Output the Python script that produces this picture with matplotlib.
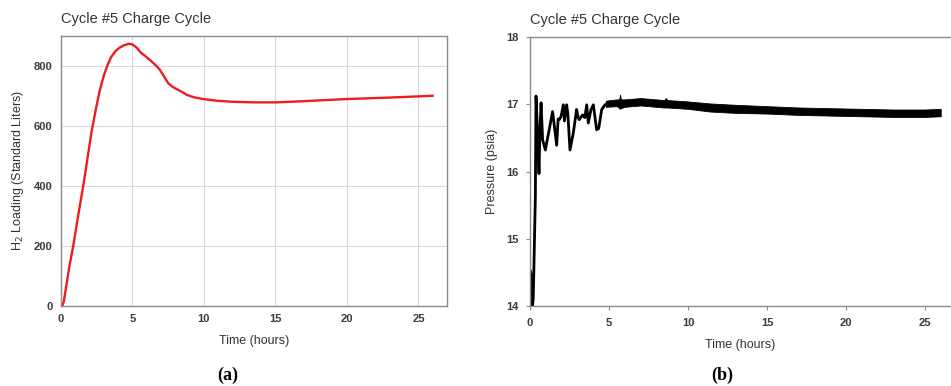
"""
Cycle #5 charge cycle: H2 loading (a) and pressure (b) against time.
"""

import matplotlib.pyplot as plt

# (a) H2 loading, standard liters
load_t = [0.0, 0.1, 0.2, 0.3, 0.45, 0.6, 0.86, 1.2, 1.56, 1.85, 2.14, 2.4, 2.7, 3.0,
          3.24, 3.5, 3.8, 4.1, 4.4, 4.75, 5.0, 5.3, 5.6, 5.9, 6.2, 6.6, 6.91, 7.2,
          7.5, 7.8, 8.1, 8.5, 8.8, 9.3, 9.94, 11.0, 12.03, 13.5, 15.06, 17.0, 19.95,
          23.0, 26.0]
load_v = [0, 2, 15, 45, 90, 135, 200, 300, 400, 490, 580, 645, 715, 768,
          800, 828, 848, 860, 868, 873, 871, 860, 843, 832, 820, 803, 787, 765,
          742, 730, 722, 712, 703, 695, 689, 683, 680, 678, 678, 682, 689,
          694, 700]

# (b) pressure, early oscillating section
pres_t = [0.0, 0.02, 0.11, 0.15, 0.2, 0.24, 0.34, 0.38, 0.44, 0.49, 0.57, 0.63, 0.70,
          0.80, 0.97, 1.2, 1.43, 1.69, 1.78, 1.86, 1.97, 2.11, 2.18, 2.32, 2.4, 2.53,
          2.74, 2.95, 3.05, 3.12, 3.33, 3.47, 3.59, 3.69, 3.86, 4.01, 4.22, 4.35,
          4.54, 4.75, 5.06]
pres_v = [14.39, 14.53, 14.43, 14.0, 14.1, 14.49, 15.63, 17.12, 16.8, 16.47, 15.97, 16.6, 17.02,
          16.47, 16.32, 16.6, 16.89, 16.39, 16.78, 16.77, 16.82, 16.99, 16.75, 16.99, 16.85, 16.32,
          16.57, 16.92, 16.8, 16.77, 16.84, 16.8, 16.99, 16.72, 16.92, 16.99, 16.62, 16.64,
          16.92, 16.99, 17.03]

# (b) noisy plateau drawn as an envelope
band_t = [4.8, 5.5, 5.65, 5.7, 5.75, 6.0, 7.0, 8.5, 8.6, 8.7, 10.0, 11.4, 13.0, 15.0, 17.0,
          19.0, 21.0, 23.0, 25.0, 26.0]
band_hi = [17.05, 17.07, 17.07, 17.14, 17.07, 17.07, 17.09, 17.06, 17.09, 17.06, 17.04, 17.01,
           16.99, 16.97, 16.95, 16.94, 16.93, 16.92, 16.92, 16.93]
band_lo = [16.96, 16.97, 16.94, 16.93, 16.94, 16.96, 16.98, 16.95, 16.95, 16.95, 16.93, 16.89,
           16.87, 16.86, 16.84, 16.83, 16.82, 16.81, 16.81, 16.82]

x_ticks = [0, 5, 10, 15, 20, 25]
load_ticks = [0, 200, 400, 600, 800]
pres_ticks = [14, 15, 16, 17, 18]

plt.rcParams["font.family"] = ["Liberation Sans", "DejaVu Sans"]

fig = plt.figure(figsize=(9.51, 3.86), dpi=100)

# ---- panel (a)
ax1 = fig.add_axes([0.0641, 0.2073, 0.4059, 0.7002])
ax1.plot(load_t, load_v, color="#ee1c1c", lw=1.7, solid_joinstyle="round")
ax1.set_xlim(0, 27)
ax1.set_ylim(0, 900)
ax1.set_xticks(x_ticks)
ax1.set_yticks(load_ticks)
ax1.grid(True, color="#d9d9d9", lw=0.8)
ax1.set_axisbelow(True)
ax1.tick_params(length=0, pad=6, labelsize=8, labelcolor="#3a3a3a")
for lab in ax1.get_xticklabels() + ax1.get_yticklabels():
    lab.set_fontweight("bold")
for s in ax1.spines.values():
    s.set_color("#8c8c8c")
    s.set_linewidth(1.0)
ax1.set_xlabel("Time (hours)", fontsize=9, color="#333333", labelpad=8)
ax1.set_ylabel("H$_2$ Loading (Standard Liters)", fontsize=9, color="#333333", labelpad=6)
ax1.set_title("Cycle #5 Charge Cycle", loc="left", fontsize=10.5, color="#333333", pad=9)

# ---- panel (b)
ax2 = fig.add_axes([0.5573, 0.2060, 0.4427, 0.6990])
ax2.plot(pres_t, pres_v, color="black", lw=2.0, solid_joinstyle="round")
ax2.fill_between(band_t, band_lo, band_hi, color="black", lw=0.6, edgecolor="black")
ax2.set_xlim(0, 26.65)
ax2.set_ylim(14, 18)
ax2.set_xticks(x_ticks)
ax2.set_yticks(pres_ticks)
ax2.spines["right"].set_visible(False)
for s in ["left", "bottom", "top"]:
    ax2.spines[s].set_color("#8c8c8c")
    ax2.spines[s].set_linewidth(1.0)
ax2.tick_params(length=3, width=0.8, color="#8c8c8c", pad=5, labelsize=8, labelcolor="#3a3a3a")
for lab in ax2.get_xticklabels() + ax2.get_yticklabels():
    lab.set_fontweight("bold")
ax2.set_xlabel("Time (hours)", fontsize=9, color="#333333", labelpad=8)
ax2.set_ylabel("Pressure (psia)", fontsize=9, color="#333333", labelpad=6)
ax2.set_title("Cycle #5 Charge Cycle", loc="left", fontsize=10.5, color="#333333", pad=9)

# sub-figure letters
fig.text(0.240, 0.005, "(a)", ha="center", va="bottom", fontsize=13, fontweight="bold",
         family=["Liberation Serif", "DejaVu Serif"])
fig.text(0.759, 0.005, "(b)", ha="center", va="bottom", fontsize=13, fontweight="bold",
         family=["Liberation Serif", "DejaVu Serif"])

fig.savefig("out.png", dpi=100)
